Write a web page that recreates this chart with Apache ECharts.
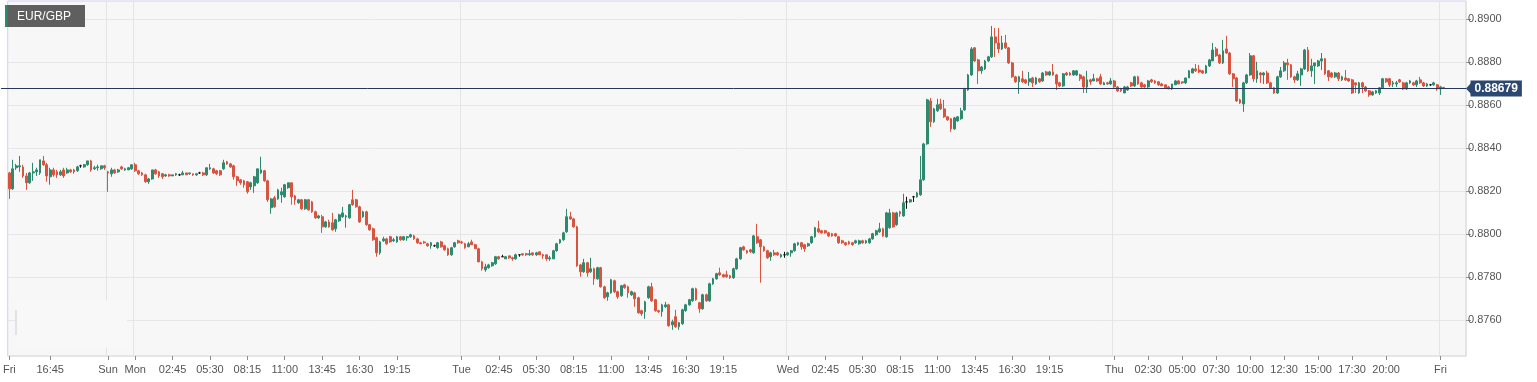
<!DOCTYPE html>
<html><head><meta charset="utf-8">
<script src="https://cdn.jsdelivr.net/npm/echarts@6/dist/echarts.min.js"></script>
<style>html,body{margin:0;padding:0;background:#fff}#chart{width:1537px;height:382px}</style>
</head><body><div id="chart"></div>
<script>
const symbolName = 'EUR/GBP';
const currentPrice = 0.88679;
// [day, first candle time, number of 15-minute candles]
const daySegments = [['Fri','13:45',29],['Sun','22:00',8],['Mon','00:00',96],['Tue','00:00',96],['Wed','00:00',96],['Thu','00:00',96],['Fri','00:00',2]];
const padCategories = 6;
const tickCategories = ['Fri 13:45','Fri 16:45','Sun 22:00','Mon 00:00','Mon 02:45','Mon 05:30','Mon 08:15','Mon 11:00','Mon 13:45','Mon 16:30','Mon 19:15','Tue 00:00','Tue 02:45','Tue 05:30','Tue 08:15','Tue 11:00','Tue 13:45','Tue 16:30','Tue 19:15','Wed 00:00','Wed 02:45','Wed 05:30','Wed 08:15','Wed 11:00','Wed 13:45','Wed 16:30','Wed 19:15','Thu 00:00','Thu 02:30','Thu 05:00','Thu 07:30','Thu 10:00','Thu 12:30','Thu 15:00','Thu 17:30','Thu 20:00','Fri 00:00'];
const tickLabels = ['Fri','16:45','Sun','Mon','02:45','05:30','08:15','11:00','13:45','16:30','19:15','Tue','02:45','05:30','08:15','11:00','13:45','16:30','19:15','Wed','02:45','05:30','08:15','11:00','13:45','16:30','19:15','Thu','02:30','05:00','07:30','10:00','12:30','15:00','17:30','20:00','Fri'];
const dayLineCategories = ['Sun 22:00','Mon 00:00','Tue 00:00','Wed 00:00','Thu 00:00','Fri 00:00'];

const openPrices = [
0.88285,0.88211,0.88309,0.88313,0.88313,0.88271,0.88239,0.88285,0.88290,0.88285,
0.88341,0.88323,0.88267,0.88299,0.88290,0.88276,0.88299,0.88285,0.88299,0.88299,
0.88295,0.88318,0.88313,0.88323,0.88341,0.88304,0.88309,0.88304,0.88318,0.88290,
0.88281,0.88299,0.88290,0.88313,0.88299,0.88299,0.88304,0.88323,0.88295,0.88285,
0.88276,0.88244,0.88257,0.88299,0.88290,0.88281,0.88271,0.88276,0.88271,0.88276,
0.88276,0.88276,0.88285,0.88281,0.88281,0.88276,0.88285,0.88285,0.88276,0.88304,
0.88304,0.88295,0.88295,0.88304,0.88337,0.88327,0.88318,0.88267,0.88253,0.88248,
0.88244,0.88220,0.88225,0.88239,0.88285,0.88295,0.88248,0.88123,0.88169,0.88164,
0.88183,0.88174,0.88216,0.88239,0.88178,0.88146,0.88160,0.88118,0.88160,0.88150,
0.88104,0.88076,0.88081,0.88034,0.88057,0.88053,0.88025,0.88062,0.88081,0.88081,
0.88076,0.88160,0.88160,0.88127,0.88081,0.88104,0.88044,0.88025,0.87983,0.87913,
0.87969,0.87978,0.87988,0.87969,0.87964,0.87988,0.87974,0.87983,0.87988,0.87992,
0.87978,0.87960,0.87964,0.87955,0.87946,0.87946,0.87937,0.87964,0.87946,0.87932,
0.87904,0.87941,0.87969,0.87964,0.87955,0.87941,0.87964,0.87951,0.87932,0.87871,
0.87834,0.87844,0.87853,0.87862,0.87895,0.87895,0.87885,0.87899,0.87890,0.87885,
0.87904,0.87909,0.87909,0.87904,0.87913,0.87904,0.87918,0.87904,0.87904,0.87885,
0.87885,0.87923,0.87960,0.87974,0.88011,0.88081,0.88071,0.88034,0.87857,0.87825,
0.87867,0.87825,0.87839,0.87792,0.87844,0.87755,0.87709,0.87727,0.87783,0.87732,
0.87713,0.87764,0.87755,0.87718,0.87727,0.87704,0.87644,0.87639,0.87704,0.87755,
0.87695,0.87644,0.87639,0.87662,0.87671,0.87578,0.87616,0.87569,0.87583,0.87644,
0.87671,0.87690,0.87746,0.87681,0.87653,0.87718,0.87690,0.87769,0.87792,0.87820,
0.87811,0.87811,0.87806,0.87797,0.87839,0.87885,0.87941,0.87923,0.87927,0.87913,
0.87988,0.87974,0.87941,0.87923,0.87895,0.87913,0.87913,0.87895,0.87904,0.87904,
0.87913,0.87923,0.87951,0.87960,0.87951,0.87946,0.87960,0.87988,0.88025,0.88016,
0.88016,0.88006,0.88002,0.88002,0.87988,0.87969,0.87960,0.87964,0.87960,0.87960,
0.87955,0.87969,0.87960,0.87960,0.87978,0.87997,0.88011,0.88025,0.87988,0.88030,
0.88099,0.88044,0.88104,0.88085,0.88150,0.88150,0.88174,0.88174,0.88183,0.88253,
0.88420,0.88620,0.88523,0.88574,0.88606,0.88583,0.88546,0.88537,0.88490,0.88527,
0.88537,0.88578,0.88671,0.88741,0.88867,0.88811,0.88760,0.88769,0.88806,0.88825,
0.88918,0.88890,0.88862,0.88890,0.88867,0.88797,0.88732,0.88709,0.88723,0.88718,
0.88709,0.88727,0.88699,0.88723,0.88713,0.88755,0.88741,0.88755,0.88741,0.88704,
0.88690,0.88750,0.88750,0.88741,0.88741,0.88741,0.88732,0.88685,0.88718,0.88713,
0.88723,0.88732,0.88695,0.88704,0.88699,0.88713,0.88685,0.88676,0.88657,0.88671,
0.88704,0.88690,0.88732,0.88704,0.88695,0.88685,0.88718,0.88713,0.88709,0.88699,
0.88695,0.88685,0.88676,0.88695,0.88713,0.88709,0.88704,0.88727,0.88750,0.88769,
0.88764,0.88760,0.88750,0.88783,0.88806,0.88862,0.88834,0.88797,0.88862,0.88843,
0.88746,0.88727,0.88625,0.88606,0.88704,0.88741,0.88830,0.88723,0.88750,0.88741,
0.88750,0.88704,0.88681,0.88657,0.88732,0.88760,0.88797,0.88788,0.88732,0.88718,
0.88741,0.88769,0.88857,0.88760,0.88783,0.88783,0.88806,0.88816,0.88760,0.88750,
0.88732,0.88750,0.88718,0.88727,0.88723,0.88718,0.88704,0.88657,0.88704,0.88685,
0.88667,0.88648,0.88657,0.88657,0.88681,0.88723,0.88723,0.88699,0.88699,0.88718,
0.88704,0.88676,0.88704,0.88704,0.88695,0.88718,0.88704,0.88690,0.88695,0.88695,
0.88695,0.88676,0.88683];

const closePrices = [
0.88211,0.88304,0.88318,0.88318,0.88271,0.88239,0.88285,0.88290,0.88299,0.88346,
0.88323,0.88271,0.88299,0.88276,0.88276,0.88290,0.88271,0.88299,0.88290,0.88290,
0.88313,0.88318,0.88323,0.88341,0.88299,0.88309,0.88313,0.88318,0.88309,0.88285,
0.88299,0.88285,0.88299,0.88304,0.88304,0.88309,0.88323,0.88295,0.88281,0.88276,
0.88244,0.88257,0.88299,0.88281,0.88271,0.88267,0.88276,0.88271,0.88276,0.88281,
0.88276,0.88285,0.88276,0.88285,0.88276,0.88281,0.88285,0.88276,0.88309,0.88309,
0.88285,0.88281,0.88276,0.88332,0.88327,0.88313,0.88267,0.88248,0.88239,0.88230,
0.88197,0.88239,0.88267,0.88304,0.88299,0.88248,0.88160,0.88164,0.88127,0.88206,
0.88197,0.88230,0.88239,0.88174,0.88160,0.88160,0.88118,0.88160,0.88113,0.88104,
0.88076,0.88085,0.88034,0.88057,0.88034,0.88020,0.88067,0.88090,0.88099,0.88085,
0.88137,0.88137,0.88127,0.88057,0.88104,0.88044,0.88020,0.87974,0.87913,0.87964,
0.87978,0.87955,0.87964,0.87974,0.87988,0.87974,0.87988,0.87988,0.87997,0.87978,
0.87960,0.87955,0.87960,0.87946,0.87960,0.87946,0.87960,0.87941,0.87927,0.87904,
0.87937,0.87960,0.87960,0.87960,0.87937,0.87955,0.87951,0.87932,0.87871,0.87839,
0.87848,0.87857,0.87867,0.87895,0.87885,0.87895,0.87895,0.87890,0.87885,0.87904,
0.87904,0.87904,0.87904,0.87909,0.87904,0.87913,0.87904,0.87899,0.87885,0.87890,
0.87923,0.87955,0.87974,0.88006,0.88081,0.88071,0.88034,0.87853,0.87825,0.87867,
0.87820,0.87839,0.87792,0.87844,0.87755,0.87704,0.87727,0.87788,0.87732,0.87709,
0.87760,0.87751,0.87727,0.87732,0.87699,0.87634,0.87630,0.87685,0.87755,0.87690,
0.87644,0.87639,0.87671,0.87671,0.87574,0.87592,0.87569,0.87588,0.87648,0.87671,
0.87695,0.87746,0.87695,0.87653,0.87718,0.87690,0.87769,0.87792,0.87816,0.87811,
0.87802,0.87802,0.87797,0.87839,0.87885,0.87937,0.87927,0.87913,0.87918,0.87992,
0.87960,0.87941,0.87923,0.87890,0.87913,0.87904,0.87904,0.87904,0.87904,0.87913,
0.87923,0.87955,0.87960,0.87941,0.87932,0.87955,0.87988,0.88030,0.88011,0.88006,
0.88006,0.87992,0.87992,0.87992,0.87960,0.87960,0.87951,0.87955,0.87951,0.87969,
0.87969,0.87960,0.87969,0.87978,0.88002,0.88016,0.88025,0.87992,0.88099,0.88099,
0.88034,0.88099,0.88095,0.88146,0.88150,0.88160,0.88174,0.88192,0.88253,0.88420,
0.88625,0.88523,0.88583,0.88602,0.88583,0.88546,0.88532,0.88490,0.88541,0.88546,
0.88574,0.88676,0.88741,0.88862,0.88806,0.88760,0.88778,0.88806,0.88825,0.88918,
0.88890,0.88862,0.88890,0.88867,0.88797,0.88732,0.88709,0.88732,0.88709,0.88704,
0.88723,0.88704,0.88727,0.88709,0.88750,0.88741,0.88755,0.88741,0.88699,0.88690,
0.88746,0.88741,0.88741,0.88760,0.88760,0.88723,0.88685,0.88718,0.88709,0.88723,
0.88713,0.88699,0.88704,0.88699,0.88713,0.88685,0.88667,0.88667,0.88685,0.88685,
0.88690,0.88732,0.88699,0.88685,0.88685,0.88713,0.88709,0.88704,0.88695,0.88690,
0.88681,0.88676,0.88699,0.88713,0.88699,0.88704,0.88727,0.88760,0.88769,0.88760,
0.88755,0.88750,0.88783,0.88811,0.88857,0.88830,0.88797,0.88853,0.88843,0.88746,
0.88723,0.88620,0.88611,0.88704,0.88741,0.88830,0.88723,0.88760,0.88741,0.88750,
0.88704,0.88681,0.88657,0.88732,0.88760,0.88797,0.88788,0.88732,0.88718,0.88746,
0.88769,0.88857,0.88760,0.88783,0.88797,0.88806,0.88816,0.88746,0.88732,0.88732,
0.88750,0.88723,0.88732,0.88718,0.88713,0.88657,0.88695,0.88704,0.88685,0.88667,
0.88648,0.88662,0.88667,0.88681,0.88723,0.88709,0.88695,0.88704,0.88704,0.88709,
0.88676,0.88704,0.88713,0.88695,0.88713,0.88704,0.88690,0.88699,0.88695,0.88704,
0.88676,0.88685,0.88679];

const highPrices = [
0.88290,0.88346,0.88327,0.88364,0.88323,0.88285,0.88290,0.88332,0.88309,0.88346,
0.88364,0.88332,0.88309,0.88309,0.88299,0.88299,0.88309,0.88309,0.88304,0.88304,
0.88318,0.88323,0.88327,0.88341,0.88346,0.88318,0.88323,0.88318,0.88323,0.88295,
0.88309,0.88304,0.88304,0.88318,0.88309,0.88313,0.88323,0.88332,0.88299,0.88290,
0.88281,0.88262,0.88299,0.88304,0.88295,0.88285,0.88281,0.88281,0.88276,0.88285,
0.88281,0.88295,0.88285,0.88285,0.88281,0.88285,0.88290,0.88290,0.88309,0.88327,
0.88309,0.88299,0.88299,0.88346,0.88341,0.88332,0.88323,0.88271,0.88257,0.88253,
0.88248,0.88244,0.88271,0.88304,0.88360,0.88299,0.88253,0.88169,0.88178,0.88211,
0.88216,0.88234,0.88239,0.88239,0.88183,0.88164,0.88164,0.88164,0.88164,0.88155,
0.88109,0.88090,0.88090,0.88062,0.88067,0.88099,0.88071,0.88095,0.88127,0.88090,
0.88141,0.88206,0.88164,0.88132,0.88109,0.88109,0.88048,0.88030,0.87988,0.87969,
0.87988,0.87983,0.87992,0.87983,0.87992,0.87992,0.87992,0.87992,0.88002,0.87997,
0.87983,0.87964,0.87969,0.87960,0.87964,0.87951,0.87964,0.87969,0.87951,0.87937,
0.87941,0.87964,0.87974,0.87969,0.87960,0.87964,0.87974,0.87955,0.87937,0.87876,
0.87862,0.87862,0.87871,0.87899,0.87899,0.87904,0.87899,0.87899,0.87895,0.87909,
0.87904,0.87909,0.87913,0.87927,0.87913,0.87918,0.87918,0.87909,0.87904,0.87899,
0.87927,0.87960,0.87978,0.88011,0.88118,0.88104,0.88076,0.88039,0.87862,0.87885,
0.87871,0.87890,0.87844,0.87848,0.87848,0.87760,0.87732,0.87792,0.87788,0.87737,
0.87764,0.87769,0.87760,0.87737,0.87732,0.87709,0.87648,0.87690,0.87760,0.87774,
0.87699,0.87648,0.87676,0.87685,0.87676,0.87602,0.87648,0.87592,0.87653,0.87676,
0.87699,0.87751,0.87751,0.87685,0.87723,0.87723,0.87774,0.87797,0.87820,0.87844,
0.87816,0.87830,0.87811,0.87844,0.87890,0.87941,0.87946,0.87927,0.87932,0.87997,
0.88048,0.87978,0.87946,0.87927,0.87918,0.87927,0.87918,0.87909,0.87918,0.87918,
0.87927,0.87960,0.87964,0.87964,0.87955,0.87960,0.87992,0.88034,0.88062,0.88020,
0.88020,0.88011,0.88006,0.88006,0.87992,0.87974,0.87964,0.87969,0.87964,0.87974,
0.87974,0.87974,0.87974,0.87983,0.88006,0.88020,0.88053,0.88030,0.88104,0.88118,
0.88104,0.88104,0.88109,0.88188,0.88174,0.88164,0.88178,0.88197,0.88364,0.88425,
0.88630,0.88634,0.88588,0.88630,0.88630,0.88625,0.88550,0.88541,0.88546,0.88550,
0.88588,0.88681,0.88746,0.88871,0.88871,0.88816,0.88783,0.88811,0.88830,0.88969,
0.88960,0.88960,0.88923,0.88927,0.88871,0.88802,0.88737,0.88737,0.88760,0.88723,
0.88755,0.88732,0.88732,0.88727,0.88755,0.88760,0.88760,0.88792,0.88746,0.88709,
0.88750,0.88755,0.88755,0.88764,0.88764,0.88746,0.88737,0.88760,0.88723,0.88746,
0.88727,0.88746,0.88709,0.88709,0.88727,0.88718,0.88690,0.88681,0.88690,0.88690,
0.88709,0.88737,0.88737,0.88709,0.88699,0.88718,0.88723,0.88718,0.88713,0.88704,
0.88695,0.88690,0.88699,0.88718,0.88718,0.88709,0.88727,0.88764,0.88774,0.88792,
0.88788,0.88764,0.88788,0.88816,0.88890,0.88871,0.88839,0.88904,0.88923,0.88848,
0.88750,0.88732,0.88630,0.88709,0.88746,0.88843,0.88834,0.88802,0.88755,0.88755,
0.88760,0.88709,0.88685,0.88737,0.88778,0.88806,0.88816,0.88792,0.88737,0.88760,
0.88774,0.88862,0.88871,0.88816,0.88797,0.88811,0.88843,0.88820,0.88764,0.88755,
0.88755,0.88755,0.88737,0.88764,0.88727,0.88723,0.88704,0.88709,0.88709,0.88690,
0.88671,0.88667,0.88671,0.88685,0.88727,0.88727,0.88727,0.88713,0.88713,0.88723,
0.88709,0.88709,0.88718,0.88709,0.88718,0.88732,0.88709,0.88704,0.88699,0.88709,
0.88699,0.88690,0.88685];

const lowPrices = [
0.88164,0.88206,0.88299,0.88290,0.88262,0.88206,0.88234,0.88248,0.88271,0.88276,
0.88318,0.88244,0.88230,0.88267,0.88262,0.88271,0.88262,0.88281,0.88285,0.88281,
0.88290,0.88309,0.88309,0.88318,0.88290,0.88299,0.88295,0.88299,0.88299,0.88197,
0.88267,0.88281,0.88285,0.88299,0.88295,0.88299,0.88299,0.88290,0.88276,0.88271,
0.88239,0.88234,0.88253,0.88276,0.88262,0.88257,0.88267,0.88267,0.88271,0.88271,
0.88271,0.88276,0.88276,0.88276,0.88271,0.88271,0.88281,0.88271,0.88271,0.88299,
0.88281,0.88276,0.88271,0.88299,0.88323,0.88309,0.88253,0.88225,0.88230,0.88216,
0.88188,0.88206,0.88192,0.88234,0.88281,0.88244,0.88150,0.88095,0.88123,0.88160,
0.88146,0.88169,0.88211,0.88137,0.88137,0.88141,0.88113,0.88113,0.88109,0.88099,
0.88071,0.88071,0.88006,0.88030,0.88030,0.88016,0.88011,0.88057,0.88076,0.88030,
0.88071,0.88132,0.88123,0.88053,0.88076,0.88039,0.88016,0.87969,0.87895,0.87904,
0.87964,0.87951,0.87960,0.87964,0.87960,0.87969,0.87969,0.87969,0.87983,0.87974,
0.87955,0.87955,0.87955,0.87941,0.87932,0.87941,0.87932,0.87937,0.87923,0.87899,
0.87899,0.87937,0.87955,0.87955,0.87932,0.87941,0.87951,0.87932,0.87871,0.87830,
0.87825,0.87839,0.87848,0.87857,0.87881,0.87895,0.87885,0.87885,0.87876,0.87881,
0.87895,0.87899,0.87899,0.87899,0.87899,0.87899,0.87904,0.87885,0.87876,0.87876,
0.87885,0.87918,0.87955,0.87969,0.88006,0.88067,0.88030,0.87848,0.87802,0.87820,
0.87802,0.87820,0.87764,0.87788,0.87751,0.87699,0.87690,0.87723,0.87727,0.87699,
0.87709,0.87746,0.87704,0.87713,0.87662,0.87630,0.87620,0.87606,0.87699,0.87685,
0.87639,0.87634,0.87616,0.87657,0.87569,0.87555,0.87564,0.87555,0.87578,0.87639,
0.87667,0.87685,0.87690,0.87634,0.87648,0.87685,0.87685,0.87764,0.87788,0.87806,
0.87797,0.87797,0.87792,0.87792,0.87834,0.87881,0.87923,0.87909,0.87913,0.87909,
0.87955,0.87774,0.87918,0.87885,0.87876,0.87899,0.87899,0.87890,0.87890,0.87899,
0.87895,0.87918,0.87946,0.87927,0.87918,0.87941,0.87955,0.87983,0.88006,0.88002,
0.88002,0.87988,0.87988,0.87988,0.87955,0.87955,0.87946,0.87951,0.87946,0.87955,
0.87951,0.87955,0.87955,0.87955,0.87974,0.87992,0.88006,0.87988,0.87983,0.88025,
0.88030,0.88039,0.88081,0.88081,0.88118,0.88146,0.88150,0.88169,0.88178,0.88248,
0.88416,0.88499,0.88518,0.88569,0.88578,0.88541,0.88527,0.88476,0.88485,0.88523,
0.88532,0.88574,0.88667,0.88737,0.88802,0.88699,0.88746,0.88764,0.88802,0.88820,
0.88825,0.88843,0.88857,0.88862,0.88792,0.88727,0.88704,0.88653,0.88704,0.88699,
0.88690,0.88685,0.88695,0.88704,0.88709,0.88737,0.88737,0.88737,0.88671,0.88685,
0.88685,0.88737,0.88737,0.88737,0.88737,0.88713,0.88657,0.88657,0.88695,0.88713,
0.88709,0.88695,0.88695,0.88695,0.88695,0.88681,0.88662,0.88662,0.88657,0.88667,
0.88685,0.88685,0.88695,0.88681,0.88681,0.88681,0.88704,0.88699,0.88690,0.88690,
0.88676,0.88676,0.88671,0.88695,0.88699,0.88699,0.88699,0.88727,0.88750,0.88755,
0.88750,0.88746,0.88746,0.88778,0.88806,0.88825,0.88792,0.88792,0.88839,0.88741,
0.88685,0.88616,0.88606,0.88569,0.88699,0.88737,0.88709,0.88704,0.88704,0.88699,
0.88699,0.88676,0.88653,0.88653,0.88727,0.88755,0.88718,0.88727,0.88704,0.88713,
0.88690,0.88764,0.88755,0.88732,0.88699,0.88778,0.88764,0.88741,0.88713,0.88727,
0.88727,0.88713,0.88713,0.88713,0.88709,0.88653,0.88657,0.88653,0.88657,0.88662,
0.88639,0.88644,0.88653,0.88648,0.88676,0.88704,0.88685,0.88685,0.88685,0.88704,
0.88671,0.88671,0.88699,0.88690,0.88685,0.88699,0.88685,0.88685,0.88690,0.88690,
0.88667,0.88648,0.88676];

// ---- build categories (15-minute steps inside each trading segment) ----
const categories = [];
daySegments.forEach(([day, start, count]) => {
  const parts = start.split(':').map(Number);
  let t = parts[0] * 60 + parts[1];
  for (let k = 0; k < count; k++) {
    const hh = String(Math.floor(t / 60)).padStart(2, '0');
    const mm = String(t % 60).padStart(2, '0');
    categories.push(day + ' ' + hh + ':' + mm);
    t += 15;
  }
});
for (let k = 0; k < padCategories; k++) categories.push('pad' + k);

const labelMap = {};
tickCategories.forEach((c, i) => { labelMap[c] = tickLabels[i]; });
const daySet = new Set(dayLineCategories);

const ohlc = openPrices.map((o, i) => [o, closePrices[i], lowPrices[i], highPrices[i]]);

const FONT = "'Liberation Sans', Arial, sans-serif";
const UP = '#2e8a6f';
const DOWN = '#d9533f';
const NAVY = '#2c4870';
const GRID_L = 1, GRID_R = 1466;

const chart = echarts.init(document.getElementById('chart'), null, { renderer: 'canvas' });

function graphics(py) {
  const g = [
    { id: 'ph', type: 'rect', z: 1, shape: { x: 15, y: 300, width: 112, height: 48 }, style: { fill: '#f8f8f8' }, silent: true },
    { id: 'phbar', type: 'rect', z: 1, shape: { x: 15, y: 310, width: 2, height: 25 }, style: { fill: '#e2e2e2' }, silent: true },
    { id: 'lg', type: 'rect', z: 10, shape: { x: 5, y: 5, width: 80, height: 22 }, style: { fill: '#5f5f5f' }, silent: true },
    { id: 'lgs', type: 'rect', z: 11, shape: { x: 5, y: 5, width: 2.5, height: 22 }, style: { fill: UP }, silent: true },
    { id: 'lgt', type: 'text', z: 11, x: 17, y: 16.5, style: { text: symbolName, fill: '#ffffff', font: '12px ' + FONT, verticalAlign: 'middle', align: 'left' }, silent: true }
  ];
  if (py != null) {
    g.push({ id: 'pline', type: 'line', z: 9, shape: { x1: GRID_L, y1: py, x2: GRID_R, y2: py }, style: { stroke: '#26385a', lineWidth: 1 }, silent: true });
    g.push({ id: 'arrow', type: 'polygon', z: 12, shape: { points: [[GRID_R, py], [GRID_R + 5, py - 5.5], [GRID_R + 5, py + 5.5]] }, style: { fill: NAVY }, silent: true });
    g.push({ id: 'ptag', type: 'text', z: 12, x: GRID_R + 4.5, y: py, style: { text: currentPrice.toFixed(5), fill: '#ffffff', font: 'bold 12px ' + FONT, backgroundColor: NAVY, padding: [2, 4, 2, 4], verticalAlign: 'middle', align: 'left' }, silent: true });
  }
  return g;
}

const option = {
  animation: false,
  backgroundColor: '#ffffff',
  grid: { left: GRID_L, right: 1537 - GRID_R, top: 1, bottom: 26, show: true, backgroundColor: '#f7f7f7', borderColor: '#cdd3ea', borderWidth: 1 },
  xAxis: {
    type: 'category',
    data: categories,
    boundaryGap: true,
    axisLine: { show: false },
    axisTick: { show: true, alignWithLabel: true, length: 4, interval: (i, v) => v in labelMap, lineStyle: { color: '#8a8a8a' } },
    axisLabel: { interval: (i, v) => v in labelMap, formatter: v => labelMap[v] || '', color: '#555', fontSize: 11, fontFamily: FONT, margin: 8 },
    splitLine: { show: true, interval: (i, v) => daySet.has(v), lineStyle: { color: '#e4e4e4', width: 1 } }
  },
  yAxis: {
    type: 'value',
    position: 'right',
    min: 0.87433,
    max: 0.89085,
    splitNumber: 8,
    axisLine: { show: false },
    axisTick: { show: true, length: 5, lineStyle: { color: '#999' } },
    axisLabel: { formatter: v => v.toFixed(4), showMinLabel: false, showMaxLabel: false, color: '#555', fontSize: 11, fontFamily: FONT, margin: 2 },
    splitLine: { show: true, lineStyle: { color: '#e6e6e6', width: 1 } }
  },
  series: [{
    type: 'candlestick',
    data: ohlc,
    barWidth: '68%',
    itemStyle: { color: UP, color0: DOWN, borderColor: UP, borderColor0: DOWN, borderColorDoji: '#111111', borderWidth: 1 }
  }],
  graphic: graphics(null)
};
chart.setOption(option);
const py = chart.convertToPixel({ yAxisIndex: 0 }, currentPrice);
chart.setOption({ graphic: graphics(Math.round(py) + 0.5) });
</script>
</body></html>
